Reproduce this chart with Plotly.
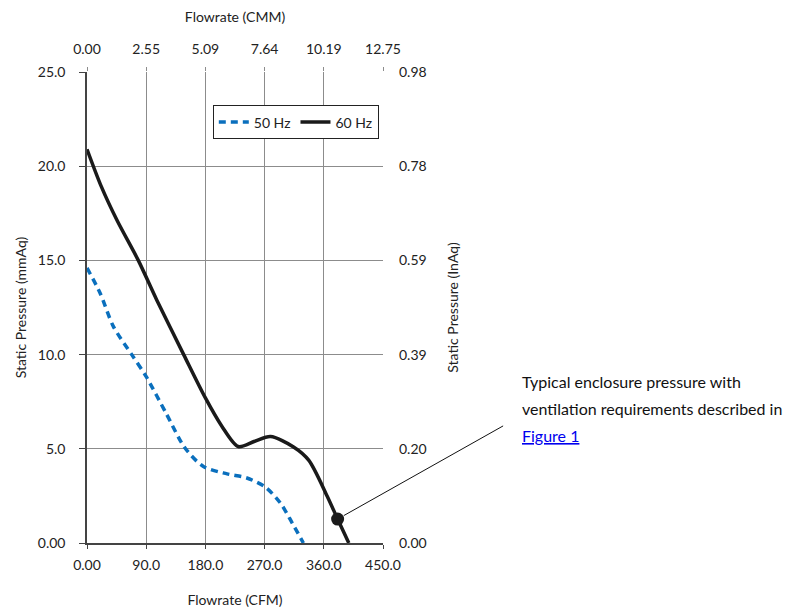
import plotly.graph_objects as go

# ---- data ----
cfm_60 = [0, 22, 46, 78, 106, 147, 180, 205, 230, 255, 279, 314, 337, 365, 381, 398]
p_60 = [20.9, 18.9, 17.1, 15.0, 12.9, 10.0, 7.7, 6.2, 5.12, 5.4, 5.65, 5.1, 4.4, 2.5, 1.27, 0.0]

cfm_50 = [0, 20, 40, 68, 90, 120, 149, 177, 213, 243, 271, 294, 312, 329]
p_50 = [14.6, 13.26, 11.5, 10.0, 8.83, 6.9, 5.04, 4.06, 3.67, 3.45, 2.97, 2.12, 1.06, 0.0]

op_cfm = [381]
op_p = [1.27]

x_ticks = [0, 90, 180, 270, 360, 450]
x_ticktext_cfm = ["0.00", "90.0", "180.0", "270.0", "360.0", "450.0"]
x_ticktext_cmm = ["0.00", "2.55", "5.09", "7.64", "10.19", "12.75"]
y_ticks = [0, 5, 10, 15, 20, 25]
y_ticktext_mm = ["0.00", "5.0", "10.0", "15.0", "20.0", "25.0"]
y_ticktext_in = ["0.00", "0.20", "0.39", "0.59", "0.78", "0.98"]

FONT = "Liberation Sans Narrow, Lato, sans-serif"
GRID = "#8c8c8c"
DARK = "#444444"

fig = go.Figure()
fig.add_trace(go.Scatter(x=cfm_50, y=p_50, mode="lines", name="50 Hz",
                         line=dict(color="#0a6fbd", width=3.5, dash="7px,5px", shape="spline", smoothing=0.8),
                         cliponaxis=False))
fig.add_trace(go.Scatter(x=cfm_60, y=p_60, mode="lines", name="60 Hz",
                         line=dict(color="#1a1a1a", width=3.5, shape="spline", smoothing=0.8),
                         cliponaxis=False))
fig.add_trace(go.Scatter(x=op_cfm, y=op_p, mode="markers", showlegend=False,
                         marker=dict(color="#1a1a1a", size=13), cliponaxis=False))
# invisible trace for secondary axes
fig.add_trace(go.Scatter(x=[0, 450], y=[0, 25], xaxis="x2", yaxis="y2", mode="markers",
                         marker=dict(opacity=0), showlegend=False, hoverinfo="skip"))

fig.update_layout(
    width=793, height=601,
    margin=dict(l=79, r=418, t=64, b=66, autoexpand=False),
    paper_bgcolor="white", plot_bgcolor="white",
    font=dict(family=FONT, size=14, color="#222222"),
    showlegend=True,
    legend=dict(orientation="h", x=0.425, y=0.929, xanchor="left", yanchor="top",
                bordercolor="#222222", borderwidth=1, bgcolor="white",
                font=dict(size=14), itemwidth=30, tracegroupgap=0),
    xaxis=dict(range=[0, 450], tickvals=x_ticks, ticktext=x_ticktext_cfm, automargin=False,
               showgrid=True, gridcolor=GRID, gridwidth=1, zeroline=False,
               showline=True, linecolor=DARK, linewidth=2,
               ticks="outside", ticklen=4, tickcolor=DARK, ticklabelstandoff=4,
               title=dict(text="Flowrate (CFM)", standoff=23, font=dict(size=14))),
    xaxis2=dict(range=[0, 450], tickvals=x_ticks, ticktext=x_ticktext_cmm, automargin=False,
                overlaying="x", side="top", showgrid=False, zeroline=False, showline=False,
                ticks="outside", ticklen=4, tickcolor=GRID, ticklabelstandoff=7,
                title=dict(text="Flowrate (CMM)", standoff=15, font=dict(size=14))),
    yaxis=dict(range=[0, 25], tickvals=y_ticks, ticktext=y_ticktext_mm, automargin=False,
               showgrid=True, gridcolor=GRID, gridwidth=1, zeroline=False,
               showline=True, linecolor=DARK, linewidth=1.5,
               ticks="outside", ticklen=6, tickcolor=DARK, ticklabelstandoff=11,
               title=dict(text="Static Pressure (mmAq)", standoff=8, font=dict(size=14))),
    yaxis2=dict(range=[0, 25], tickvals=y_ticks, ticktext=y_ticktext_in, automargin=False,
                overlaying="y", side="right", showgrid=False, zeroline=False, showline=False,
                ticks="", ticklabelstandoff=15,
                title=dict(text="Static Pressure (InAq)", standoff=22, font=dict(size=14))),
)

# annotation text
ann_font = dict(family=FONT, size=16, color="#111111")
fig.add_annotation(xref="paper", yref="paper", x=1.462, y=0.3676, xanchor="left", yanchor="top",
                   text="Typical enclosure pressure with", showarrow=False, font=ann_font)
fig.add_annotation(xref="paper", yref="paper", x=1.462, y=0.3110, xanchor="left", yanchor="top",
                   text="ventilation requirements described in", showarrow=False, font=ann_font)
fig.add_annotation(xref="paper", yref="paper", x=1.462, y=0.2530, xanchor="left", yanchor="top",
                   text="<a href='#'><span style='color:#0000ee'><u>Figure 1</u></span></a>",
                   showarrow=False, font=dict(family=FONT, size=16, color="#0000ee"))
# leader line from operating point
fig.add_annotation(x=op_cfm[0], y=op_p[0], xref="x", yref="y", text="",
                   showarrow=True, arrowhead=0, arrowwidth=1, arrowcolor="#111111",
                   ax=167, ay=-94, standoff=7)

fig.write_html("out.html")
